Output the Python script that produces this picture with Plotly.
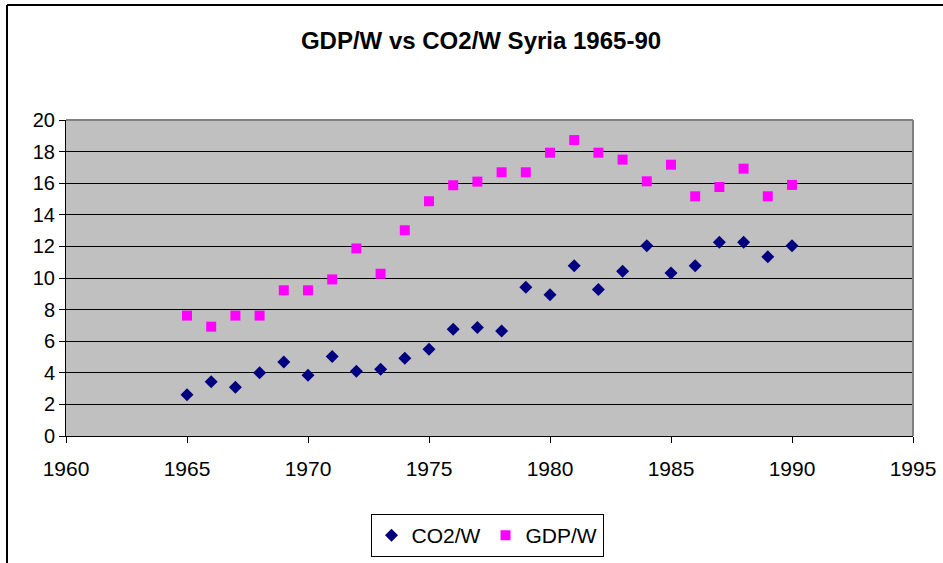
import plotly.graph_objects as go

years = list(range(1965, 1991))
co2_w = [2.61, 3.43, 3.09, 4.00, 4.69, 3.85, 5.03, 4.10, 4.23, 4.92, 5.49, 6.75, 6.86,
         6.65, 9.41, 8.94, 10.77, 9.28, 10.42, 12.04, 10.31, 10.77, 12.27, 12.27, 11.34, 12.04]
gdp_w = [7.62, 6.92, 7.62, 7.62, 9.22, 9.22, 9.91, 11.87, 10.27, 13.02, 14.86, 15.87, 16.10,
         16.69, 16.69, 17.93, 18.73, 17.93, 17.49, 16.12, 17.17, 15.17, 15.76, 16.92, 15.17, 15.89]

W, H = 943, 563
L, R, T, B = 66, 30, 120, 127
pw, ph = W - L - R, H - T - B

def px(x):
    return (x - L) / pw

def py(y):
    return (H - B - y) / ph

fig = go.Figure()
fig.add_trace(go.Scatter(x=years, y=co2_w, mode="markers", name="CO2/W",
                         marker=dict(symbol="diamond", size=10, color="#000080")))
fig.add_trace(go.Scatter(x=years, y=gdp_w, mode="markers", name="GDP/W",
                         marker=dict(symbol="square", size=10, color="#FF00FF")))

font = "Liberation Sans, Arial, sans-serif"
fig.update_layout(
    width=W, height=H,
    margin=dict(l=L, r=R, t=T, b=B, pad=0, autoexpand=False),
    paper_bgcolor="white", plot_bgcolor="#C0C0C0",
    title=dict(text="<b>GDP/W vs CO2/W Syria 1965-90</b>", x=481 / W, xanchor="center",
               y=1 - 41 / H, yanchor="middle", font=dict(family=font, size=24, color="black")),
    font=dict(family=font, color="black"),
    showlegend=True,
    legend=dict(orientation="h", x=px(487), xanchor="center", y=py(514), yanchor="top",
                bordercolor="black", borderwidth=1, bgcolor="white",
                font=dict(family=font, size=21, color="black"), itemwidth=30),
    xaxis=dict(range=[1960, 1995], dtick=5, tick0=1960, showgrid=False, zeroline=False,
               showline=True, linecolor="black", linewidth=1, ticks="outside", ticklen=6,
               tickcolor="black", tickfont=dict(family=font, size=21, color="black"),
               ticklabelstandoff=8, automargin=False),
    yaxis=dict(range=[0, 20], dtick=2, tick0=0, showgrid=True, gridcolor="black", gridwidth=1,
               zeroline=False, showline=True, linecolor="black", linewidth=1,
               ticks="outside", ticklen=6, tickcolor="black", automargin=False,
               tickfont=dict(family=font, size=20, color="black")),
    shapes=[
        dict(type="line", xref="paper", yref="paper", x0=0, x1=1, y0=1, y1=1,
             line=dict(color="#808080", width=2), layer="above"),
        dict(type="line", xref="paper", yref="paper", x0=1, x1=1, y0=0, y1=1,
             line=dict(color="#808080", width=2), layer="above"),
        dict(type="line", xref="paper", yref="paper", x0=px(7), x1=px(W + 5), y0=py(5), y1=py(5),
             line=dict(color="black", width=2)),
        dict(type="line", xref="paper", yref="paper", x0=px(7), x1=px(7), y0=py(5), y1=py(H + 5),
             line=dict(color="black", width=2)),
    ],
)

fig.write_html("out.html", config={"displayModeBar": False},
               post_script="document.body.style.margin='0';document.body.style.overflow='hidden';")
